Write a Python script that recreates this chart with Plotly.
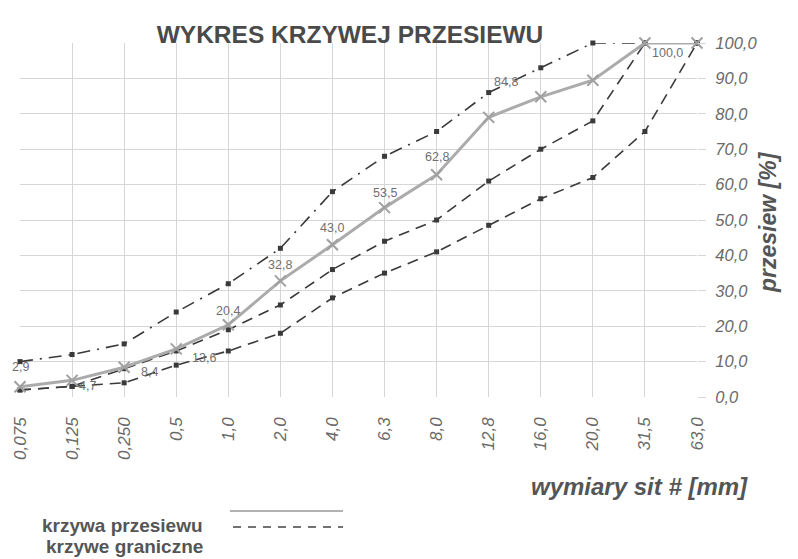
import plotly.graph_objects as go

sieves = ["0,075", "0,125", "0,250", "0,5", "1,0", "2,0", "4,0", "6,3", "8,0",
          "12,8", "16,0", "20,0", "31,5", "63,0"]
przesiew = [2.9, 4.7, 8.4, 13.6, 20.4, 32.8, 43.0, 53.5, 62.8, 79.0, 84.8, 89.5, 100.0, 100.0]
granica_gorna = [10, 12, 15, 24, 32, 42, 58, 68, 75, 86, 93, 100, 100, 100]
granica_srodkowa = [2, 3, 8, 13, 19, 26, 36, 44, 50, 61, 70, 78, 100, 100]
granica_dolna = [2, 3, 4, 9, 13, 18, 28, 35, 41, 48.5, 56, 62, 75, 100]
y_ticks = [0, 10, 20, 30, 40, 50, 60, 70, 80, 90, 100]
y_ticktext = ["0,0", "10,0", "20,0", "30,0", "40,0", "50,0", "60,0", "70,0", "80,0", "90,0", "100,0"]
labelled = [0, 1, 2, 3, 4, 5, 6, 7, 8, 10, 12]
label_shift = {0: (0, 20), 1: (15, -6), 2: (25, -5), 3: (28, -9), 4: (0, 14), 5: (0, 16),
               6: (0, 17), 7: (0, 15), 8: (0, 18), 10: (-35, 15), 12: (23, -10)}

FONT = "Liberation Sans, Arial, sans-serif"
# page body has an 8px margin; figure is sized/placed so the plot lands where the reference has it
OFF = 8
W, H = 798 - OFF, 559 - OFF
PL, PR, PT, PB = 20, 697, 43, 397   # plot area in page pixels

fig = go.Figure()

dark = "#3a3a3a"
fig.add_trace(go.Scatter(x=sieves, y=granica_dolna, mode="lines+markers",
                         line=dict(color=dark, width=1.6, dash="11px,7px"),
                         marker=dict(symbol="square", size=5, color=dark),
                         cliponaxis=False, showlegend=False))
fig.add_trace(go.Scatter(x=sieves, y=granica_srodkowa, mode="lines+markers",
                         line=dict(color=dark, width=1.6, dash="11px,7px"),
                         marker=dict(symbol="square", size=5, color=dark),
                         cliponaxis=False, showlegend=False))
fig.add_trace(go.Scatter(x=sieves, y=granica_gorna, mode="lines+markers",
                         line=dict(color=dark, width=1.6, dash="13px,7px,2px,7px"),
                         marker=dict(symbol="square", size=5, color=dark),
                         cliponaxis=False, showlegend=False))
fig.add_trace(go.Scatter(x=sieves, y=przesiew, mode="lines+markers",
                         line=dict(color="#ababab", width=3),
                         marker=dict(symbol="x-thin", size=11, line=dict(color="#a0a0a0", width=2)),
                         cliponaxis=False, showlegend=False))

for i in labelled:
    dx, dy = label_shift[i]
    fig.add_annotation(x=sieves[i], y=przesiew[i], text=f"{przesiew[i]:.1f}".replace(".", ","),
                       showarrow=False, xshift=dx, yshift=dy, xanchor="center", yanchor="middle",
                       font=dict(family=FONT, size=12.5, color="#707070"))

fig.update_layout(
    width=W, height=H,
    margin=dict(l=PL - OFF, r=W - (PR - OFF), t=PT - OFF, b=H - (PB - OFF), autoexpand=False),
    paper_bgcolor="white", plot_bgcolor="white",
    font=dict(family=FONT, color="#555"),
    title=dict(text="<b>WYKRES KRZYWEJ PRZESIEWU</b>", x=(350 - OFF) / W, xanchor="center",
               y=1 - (34 - OFF) / H, yanchor="middle",
               font=dict(family=FONT, size=24.5, color="#4a4a4a")),
)
fig.update_xaxes(type="category", range=[0, 13], showgrid=True, gridcolor="#d6d6d6", gridwidth=1,
                 tickangle=-90, ticks="", showline=False, zeroline=False, ticklabelstandoff=16,
                 automargin=False,
                 tickfont=dict(family=FONT, size=17, color="#6a6a6a", style="italic"))
fig.update_yaxes(range=[0, 100], side="right", tickvals=y_ticks, ticktext=y_ticktext,
                 showgrid=True, gridcolor="#d6d6d6", gridwidth=1, zeroline=False,
                 ticks="outside", ticklen=8, tickcolor="#d6d6d6", showline=False,
                 ticklabelstandoff=6, automargin=False,
                 tickfont=dict(family=FONT, size=16.5, color="#6a6a6a", style="italic"))


def px_x(p):
    return (p - PL) / (PR - PL)


def px_y(p):
    return (PB - p) / (PB - PT)


fig.add_annotation(text="<b><i>przesiew [%]</i></b>", xref="paper", yref="paper",
                   x=px_x(768), y=px_y(222), textangle=-90, showarrow=False,
                   xanchor="center", yanchor="middle",
                   font=dict(family=FONT, size=23, color="#555"))
fig.add_annotation(text="<b><i>wymiary sit # [mm]</i></b>", xref="paper", yref="paper",
                   x=px_x(639), y=px_y(486), showarrow=False,
                   xanchor="center", yanchor="middle",
                   font=dict(family=FONT, size=24, color="#555"))

# legend drawn manually
fig.add_annotation(text="<b>krzywa przesiewu</b>", xref="paper", yref="paper",
                   x=px_x(205), y=px_y(525), xanchor="right", yanchor="middle", showarrow=False,
                   font=dict(family=FONT, size=19, color="#555"))
fig.add_annotation(text="<b>krzywe graniczne</b>", xref="paper", yref="paper",
                   x=px_x(205), y=px_y(546), xanchor="right", yanchor="middle", showarrow=False,
                   font=dict(family=FONT, size=19, color="#555"))
fig.add_shape(type="line", xref="paper", yref="paper", x0=px_x(230), x1=px_x(343),
              y0=px_y(511), y1=px_y(511), line=dict(color="#999", width=1.5))
fig.add_shape(type="line", xref="paper", yref="paper", x0=px_x(233), x1=px_x(343),
              y0=px_y(527), y1=px_y(527), line=dict(color="#444", width=1.5, dash="8px,7px"))

fig.write_html("out.html")
